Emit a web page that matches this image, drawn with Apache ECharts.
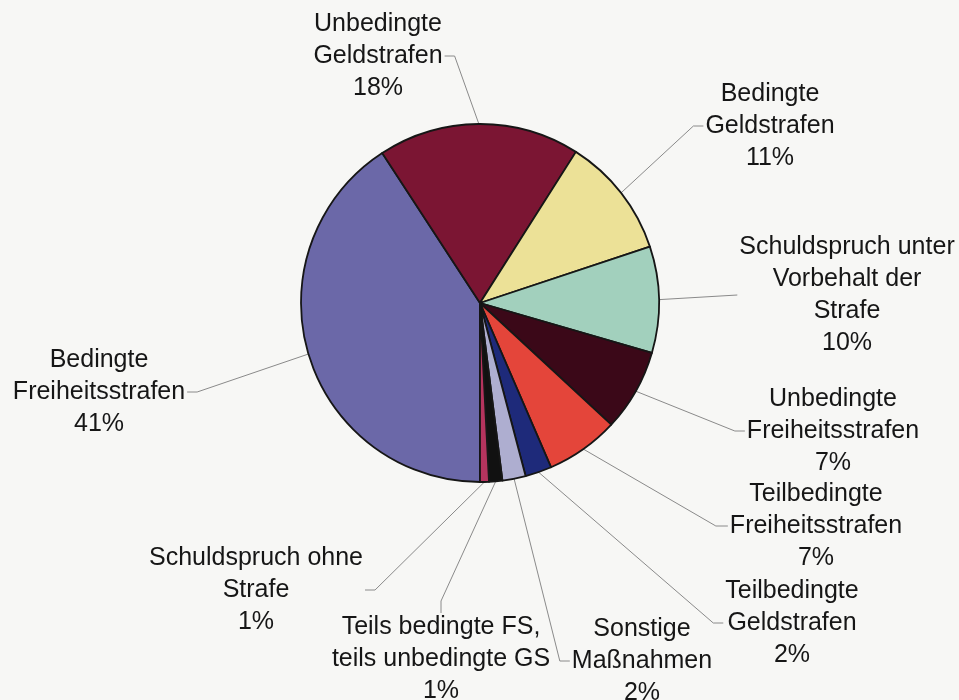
<!DOCTYPE html>
<html>
<head>
<meta charset="utf-8">
<script src="https://cdn.jsdelivr.net/npm/echarts@6/dist/echarts.min.js"></script>
<style>
    html, body { margin: 0; padding: 0; background: #f7f7f5; }
    #chart-strafen { width: 959px; height: 700px; }
</style>
</head>
<body>
<div id="chart-strafen"></div>
<script>
var categories = [
    'Bedingte\nFreiheitsstrafen',
    'Unbedingte\nGeldstrafen',
    'Bedingte\nGeldstrafen',
    'Schuldspruch unter\nVorbehalt der\nStrafe',
    'Unbedingte\nFreiheitsstrafen',
    'Teilbedingte\nFreiheitsstrafen',
    'Teilbedingte\nGeldstrafen',
    'Sonstige\nMaßnahmen',
    'Teils bedingte FS,\nteils unbedingte GS',
    'Schuldspruch ohne\nStrafe'
];
// shares in percent
var shares = [40.8, 18.2, 10.9, 9.6, 7.4, 6.6, 2.4, 2.1, 1.2, 0.8];
var colors = ['#6b68a8', '#7b1533', '#ece197', '#a2d0bd', '#3b0818',
    '#e4453a', '#1e2a7a', '#aeaed0', '#111111', '#b5345e'];

// label block centre, side where the leader line meets it, tick length
var labelSpots = [
    [99, 392, 'e', 10],
    [378, 56, 'e', 10],
    [770, 126, 'w', 10],
    [847, 295, 'w', 0],
    [833, 431, 'w', 10],
    [816, 526, 'w', 12],
    [792, 623, 'w', 10],
    [642, 661, 'w', 10],
    [441, 659, 'n', 12],
    [256, 590, 'e', 10]
];

InitChart();

function InitChart() {
    var chartDom = document.getElementById('chart-strafen');
    var myChart = echarts.init(chartDom, null, { renderer: 'canvas' });
    var option;

    var pieData = categories.map((name, i) => ({
        name: name,
        value: shares[i],
        itemStyle: { color: colors[i] }
    }));

    option = {
        backgroundColor: '#f7f7f5',
        animation: false,
        series: [{
            type: 'pie',
            center: [480, 303],
            radius: 179,
            startAngle: 270,
            clockwise: true,
            percentPrecision: 0,
            avoidLabelOverlap: false,
            data: pieData,
            itemStyle: {
                borderColor: '#161616',
                borderWidth: 1.8
            },
            label: {
                show: true,
                position: 'outside',
                formatter: '{b}\n{d}%',
                fontFamily: '"Liberation Sans", Arial, sans-serif',
                fontSize: 25,
                lineHeight: 32,
                color: '#161616'
            },
            labelLine: {
                show: true,
                length: 10,
                length2: 10,
                smooth: false,
                lineStyle: { color: '#8a8a8a', width: 1 }
            },
            labelLayout: function (params) {
                var spot = labelSpots[params.dataIndex];
                var w = params.labelRect.width;
                var h = params.labelRect.height;
                var start = params.labelLinePoints ? params.labelLinePoints[0] : [spot[0], spot[1]];
                var end, bend;
                if (spot[2] === 'e') {
                    end = [spot[0] + w / 2 + 2, spot[1]];
                    bend = [end[0] + spot[3], spot[1]];
                } else if (spot[2] === 'w') {
                    end = [spot[0] - w / 2 - 2, spot[1]];
                    bend = [end[0] - spot[3], spot[1]];
                } else {
                    end = [spot[0], spot[1] - h / 2 + 2];
                    bend = [spot[0], end[1] - spot[3]];
                }
                return {
                    x: spot[0],
                    y: spot[1],
                    align: 'center',
                    verticalAlign: 'middle',
                    labelLinePoints: [start, bend, end]
                };
            },
            emphasis: { disabled: true }
        }]
    };

    myChart.setOption(option);
}
</script>
</body>
</html>
